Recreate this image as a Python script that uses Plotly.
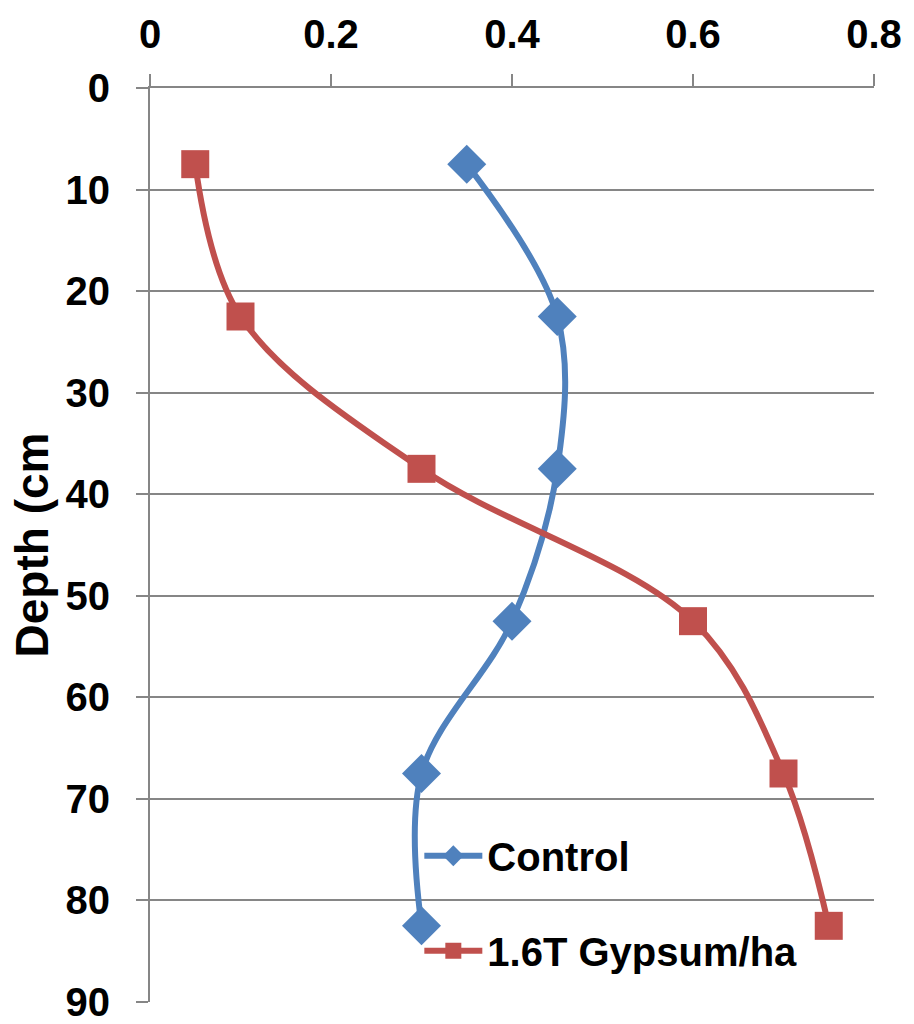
import plotly.graph_objects as go

# depth of each sampled layer (cm) and measured values
depth = [7.5, 22.5, 37.5, 52.5, 67.5, 82.5]
control = [0.35, 0.45, 0.45, 0.40, 0.30, 0.30]
gypsum = [0.05, 0.10, 0.30, 0.60, 0.70, 0.75]

x_ticks = [0, 0.2, 0.4, 0.6, 0.8]
y_ticks = [0, 10, 20, 30, 40, 50, 60, 70, 80, 90]

BLUE = "#4F81BD"
RED = "#C0504D"
GRID = "#868686"
FONT = "Liberation Sans, Arial, sans-serif"

fig = go.Figure()
fig.add_trace(
    go.Scatter(
        x=control,
        y=depth,
        name="Control",
        mode="lines+markers",
        line=dict(color=BLUE, width=6, shape="spline", smoothing=1),
        marker=dict(symbol="diamond", size=30, color=BLUE),
        legend="legend",
    )
)
fig.add_trace(
    go.Scatter(
        x=gypsum,
        y=depth,
        name="1.6T Gypsum/ha",
        mode="lines+markers",
        line=dict(color=RED, width=6, shape="spline", smoothing=1),
        marker=dict(symbol="square", size=28, color=RED),
        legend="legend2",
    )
)

legend_style = dict(
    font=dict(family=FONT, size=40, color="black", weight="bold"),
    bgcolor="rgba(0,0,0,0)",
    xanchor="left",
    yanchor="middle",
    itemwidth=58,
)

fig.update_layout(
    width=914,
    height=1024,
    paper_bgcolor="white",
    plot_bgcolor="white",
    margin=dict(l=150, r=34, t=88, b=22),
    font=dict(family=FONT, color="black"),
    showlegend=True,
    legend=dict(x=0.372, y=0.160, **legend_style),
    legend2=dict(x=0.372, y=0.056, **legend_style),
)
fig.update_xaxes(
    side="top",
    range=[0, 0.8],
    tickvals=x_ticks,
    ticktext=[f"{v:g}" for v in x_ticks],
    showgrid=False,
    zeroline=False,
    showline=True,
    linecolor=GRID,
    linewidth=2,
    ticks="outside",
    ticklen=12,
    tickwidth=2,
    tickcolor=GRID,
    tickfont=dict(family=FONT, size=40, color="black", weight="bold"),
    ticklabelstandoff=10,
    ticklabeloverflow="allow",
)
fig.update_yaxes(
    range=[90, 0],
    tickvals=y_ticks,
    showgrid=True,
    gridcolor=GRID,
    gridwidth=2,
    zeroline=False,
    showline=True,
    linecolor=GRID,
    linewidth=2,
    ticks="outside",
    ticklen=12,
    tickwidth=2,
    tickcolor=GRID,
    tickfont=dict(family=FONT, size=40, color="black", weight="bold"),
    ticklabelstandoff=18,
    ticklabeloverflow="allow",
    title=dict(
        text="Depth (cm",
        font=dict(family=FONT, size=46, color="black", weight="bold"),
        standoff=2,
    ),
    automargin=False,
)

# drop the default body margin so the figure sits at the window's top-left corner
fig.write_html(
    "out.html",
    config={"displayModeBar": False},
    post_script="document.body.style.margin='0';document.body.style.overflow='hidden';",
)
